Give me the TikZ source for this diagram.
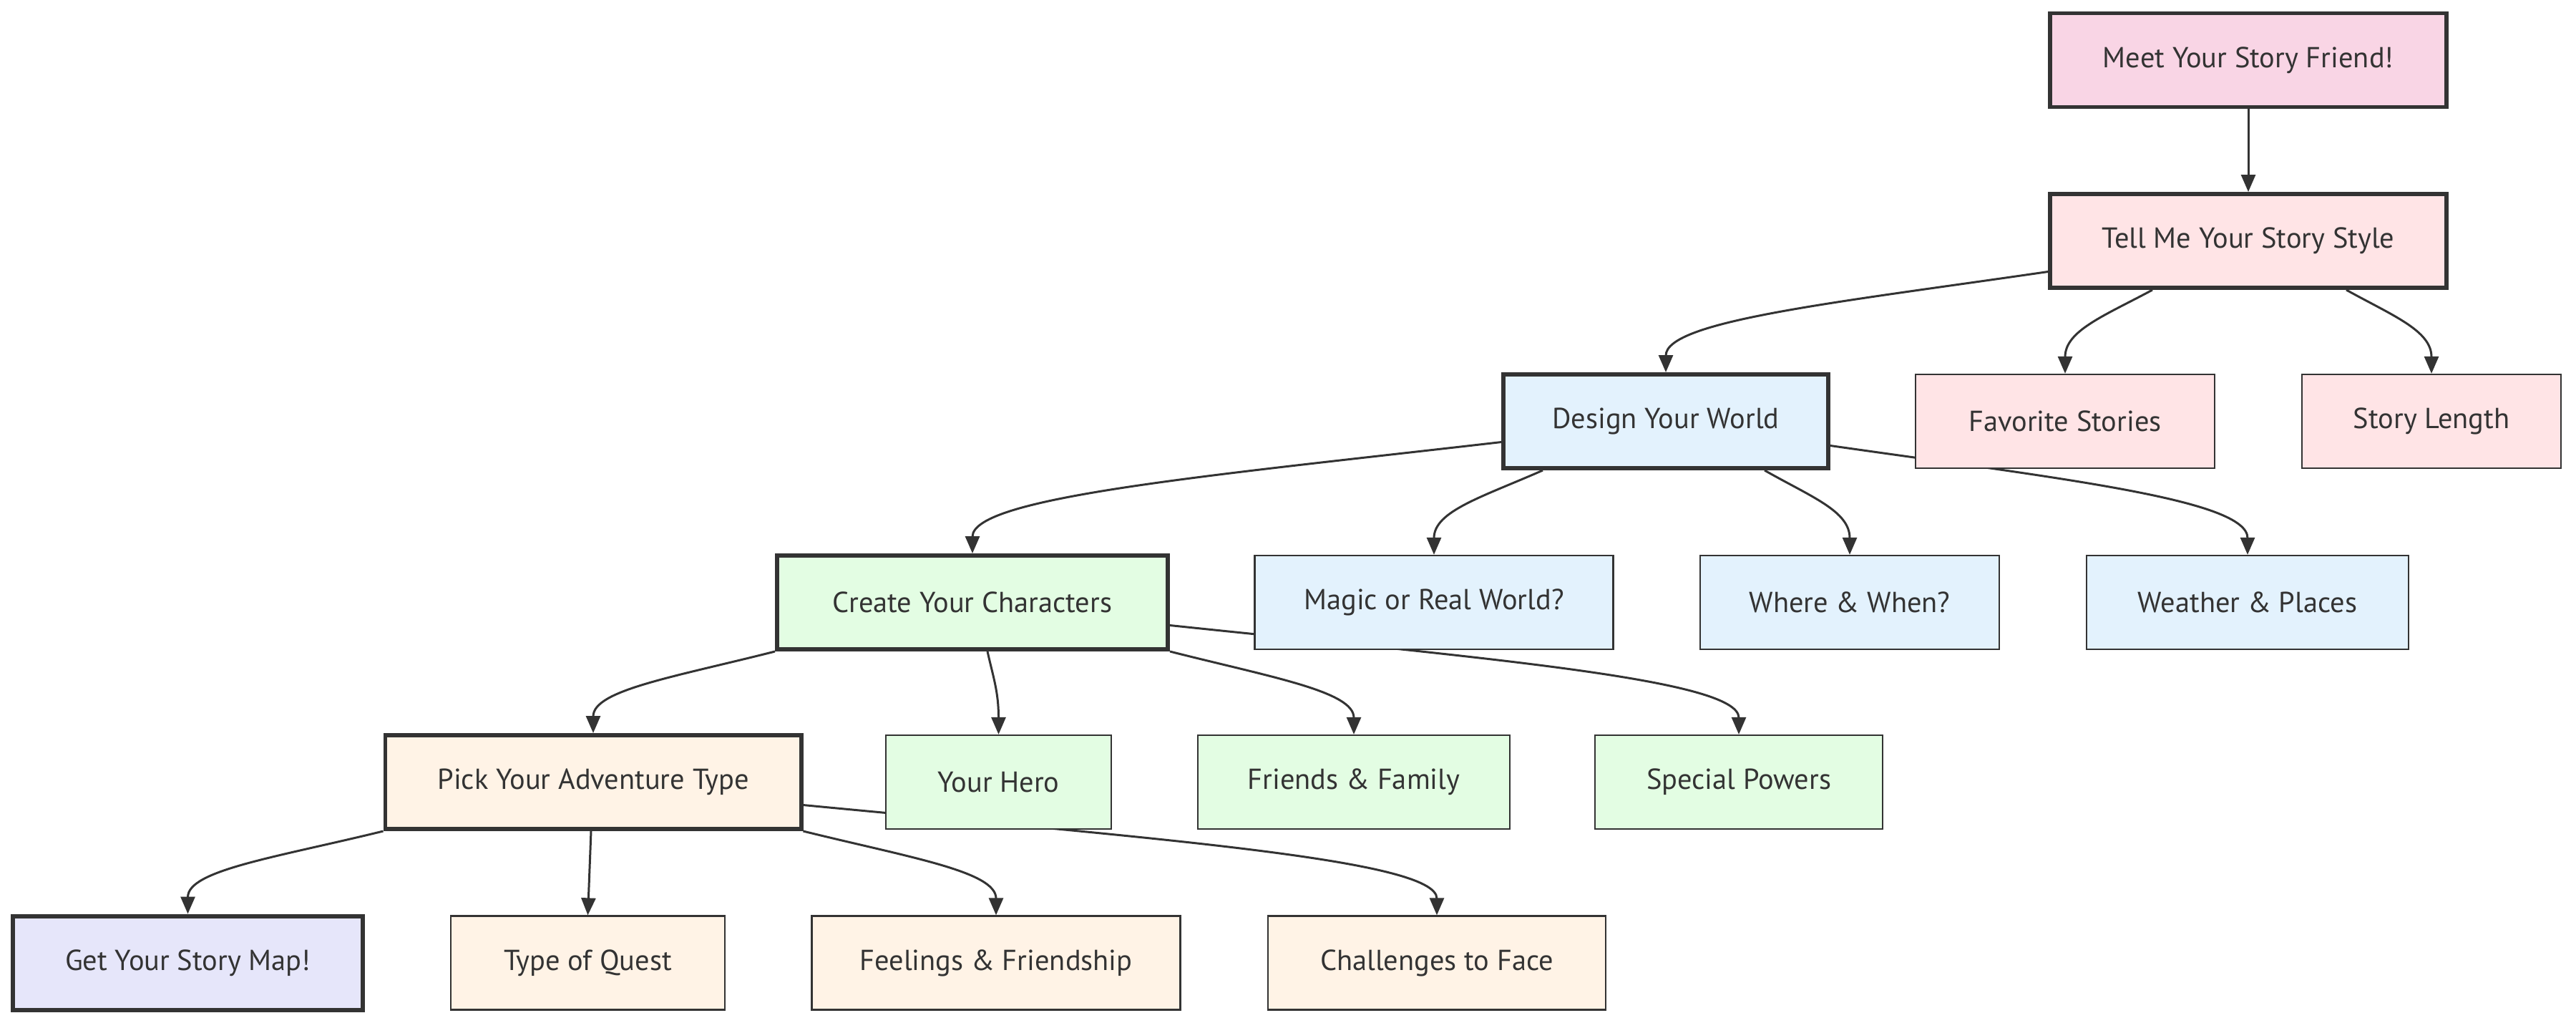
\documentclass[tikz,border=0pt]{standalone}
\usepackage{fontspec}
\setmainfont{PT Sans}
\usetikzlibrary{arrows.meta,backgrounds,calc}
\definecolor{txt}{HTML}{333333}
\definecolor{cMeet}{HTML}{F9D5E5}
\definecolor{cTell}{HTML}{FFE4E6}
\definecolor{cDesign}{HTML}{E3F2FD}
\definecolor{cCreate}{HTML}{E3FDE3}
\definecolor{cPick}{HTML}{FFF3E6}
\definecolor{cMap}{HTML}{E6E6FA}
\tikzset{
  box/.style={draw=txt, rectangle, minimum height=1.31cm, inner sep=0pt, text=txt,
    font=\fontsize{11.5pt}{13pt}\selectfont, line width=0.65pt},
  mainbox/.style={box, line width=1.7pt},
  edge/.style={draw=txt, line width=0.85pt, -{Triangle[length=0.24cm,width=0.2cm]}},
}
\begin{document}
\begin{tikzpicture}
\useasboundingbox (0,0) rectangle (36,-14.28);
% row 1
\node[mainbox, fill=cMeet, minimum width=5.54cm] (meet) at (31.42,-0.84) {Meet Your Story Friend!};
% row 2
\node[mainbox, fill=cTell, minimum width=5.54cm] (tell) at (31.42,-3.365) {Tell Me Your Story Style};
% row 3
\node[mainbox, fill=cDesign, minimum width=4.54cm] (design) at (23.28,-5.885) {Design Your World};
\node[box, fill=cTell, minimum width=4.18cm] (fav) at (28.86,-5.885) {Favorite Stories};
\node[box, fill=cTell, minimum width=3.62cm] (length) at (33.98,-5.885) {Story Length};
% row 4
\node[mainbox, fill=cCreate, minimum width=5.46cm] (create) at (13.59,-8.415) {Create Your Characters};
\node[box, fill=cDesign, minimum width=5.01cm] (magic) at (20.04,-8.415) {Magic or Real World?};
\node[box, fill=cDesign, minimum width=4.18cm] (where) at (25.85,-8.415) {Where \& When?};
\node[box, fill=cDesign, minimum width=4.50cm] (weather) at (31.41,-8.415) {Weather \& Places};
% row 5
\node[mainbox, fill=cPick, minimum width=5.81cm] (pick) at (8.29,-10.925) {Pick Your Adventure Type};
\node[box, fill=cCreate, minimum width=3.15cm] (hero) at (13.955,-10.925) {Your Hero};
\node[box, fill=cCreate, minimum width=4.36cm] (friends) at (18.92,-10.925) {Friends \& Family};
\node[box, fill=cCreate, minimum width=4.02cm] (special) at (24.30,-10.925) {Special Powers};
% row 6
\node[mainbox, fill=cMap, minimum width=4.89cm] (map) at (2.625,-13.45) {Get Your Story Map!};
\node[box, fill=cPick, minimum width=3.83cm] (quest) at (8.215,-13.45) {Type of Quest};
\node[box, fill=cPick, minimum width=5.15cm] (feel) at (13.92,-13.45) {Feelings \& Friendship};
\node[box, fill=cPick, minimum width=4.72cm] (chall) at (20.08,-13.45) {Challenges to Face};

\begin{scope}[on background layer]
\draw[edge] (meet.south) -- (tell.north);
\draw[edge] ([yshift=-0.43cm]tell.west) .. controls +(-2.95,-0.43) and +(0,0.72) .. (design.north);
\draw[edge] ([xshift=-1.34cm]tell.south) .. controls +(-0.67,-0.36) and +(0,0.6) .. (fav.north);
\draw[edge] ([xshift=1.37cm]tell.south) .. controls +(0.65,-0.36) and +(0,0.6) .. (length.north);
\draw[edge] ([yshift=-0.29cm]design.west) .. controls +(-4.08,-0.47) and +(0,0.79) .. (create.north);
\draw[edge] ([xshift=-1.72cm]design.south) .. controls +(-0.84,-0.37) and +(0,0.61) .. (magic.north);
\draw[edge] ([xshift=1.38cm]design.south) .. controls +(0.65,-0.37) and +(0,0.61) .. (where.north);
\draw[edge] ([yshift=-0.34cm]design.east) .. controls +(3.22,-0.46) and +(0,0.77) .. (weather.north);
\draw[edge] (create.south west) .. controls +(-1.42,-0.36) and +(0,0.6) .. (pick.north);
\draw[edge] ([xshift=0.21cm]create.south) .. controls +(0.08,-0.36) and +(0,0.6) .. (hero.north);
\draw[edge] (create.south east) .. controls +(1.42,-0.36) and +(0,0.6) .. (friends.north);
\draw[edge] ([yshift=-0.32cm]create.east) .. controls +(4.39,-0.46) and +(0,0.77) .. (special.north);
\draw[edge] (pick.south west) .. controls +(-1.51,-0.37) and +(0,0.61) .. (map.north);
\draw[edge] ([xshift=-0.03cm]pick.south) -- (quest.north);
\draw[edge] (pick.south east) .. controls +(1.5,-0.37) and +(0,0.61) .. (feel.north);
\draw[edge] ([yshift=-0.32cm]pick.east) .. controls +(4.9,-0.47) and +(0,0.78) .. (chall.north);
\end{scope}
\end{tikzpicture}
\end{document}
